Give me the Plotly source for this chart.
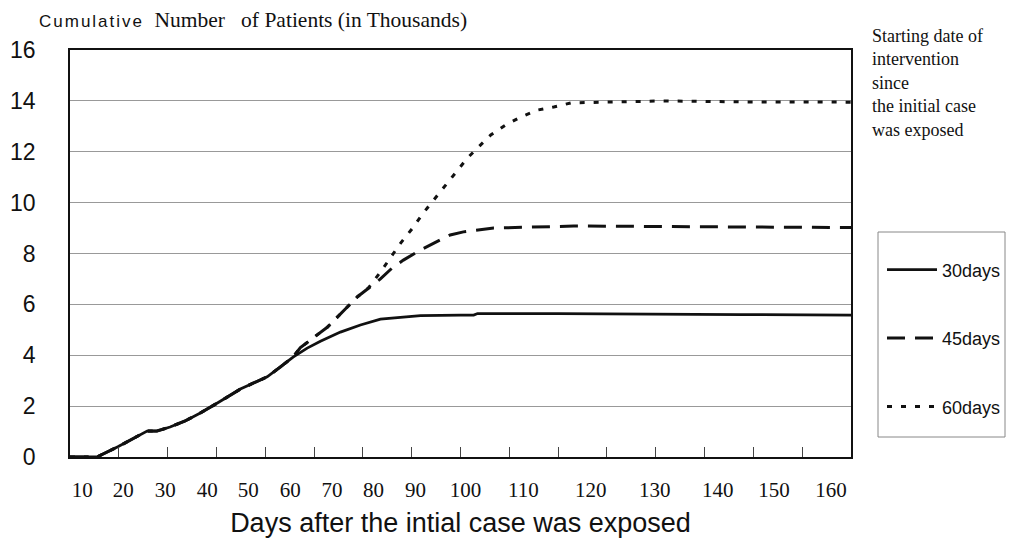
import plotly.graph_objects as go

# x in units of the tick grid (left edge = 0, tick marks every 10, right edge = 160)
days_30 = [0, 5.5, 9.8, 12.3, 15.8, 17.8, 20.5, 23.6, 26.7, 30.2, 34.9, 37.5, 40.4, 43.1, 45.7,
           48.6, 51.3, 55.4, 59.5, 63.6, 67.7, 71.8, 80.0, 82.7, 83.5, 100.0, 137.4, 160.0]
vals_30 = [0, 0, 0.40, 0.67, 1.02, 1.02, 1.18, 1.42, 1.73, 2.12, 2.67, 2.90, 3.15, 3.54, 3.93,
           4.28, 4.55, 4.91, 5.19, 5.42, 5.50, 5.56, 5.58, 5.58, 5.64, 5.64, 5.60, 5.58]

days_45 = [0, 5.5, 9.8, 12.3, 15.8, 17.8, 20.5, 23.6, 26.7, 30.2, 34.9, 37.5, 40.4, 43.1, 45.7,
           47.2, 52.7, 58.9, 61.1, 63.6, 66.0, 68.3, 71.8, 74.5, 77.9, 80.6, 84.1, 86.8, 103.2, 137.4, 160.0]
vals_45 = [0, 0, 0.40, 0.67, 1.02, 1.02, 1.18, 1.42, 1.73, 2.12, 2.67, 2.90, 3.15, 3.54, 3.93,
           4.30, 5.10, 6.30, 6.64, 7.00, 7.43, 7.74, 8.14, 8.41, 8.73, 8.85, 8.92, 9.00, 9.08, 9.04, 9.02]

days_60 = [0, 5.5, 9.8, 12.3, 15.8, 17.8, 20.5, 23.6, 26.7, 30.2, 34.9, 37.5, 40.4, 43.1, 45.7,
           47.2, 52.7, 58.9, 61.1, 63.6, 65.6, 67.7, 70.2, 72.4, 74.5, 76.9, 79.0, 81.4, 83.7, 86.2,
           89.2, 92.3, 95.8, 99.1, 102.6, 108.7, 121.6, 137.4, 160.0]
vals_60 = [0, 0, 0.40, 0.67, 1.02, 1.02, 1.18, 1.42, 1.73, 2.12, 2.67, 2.90, 3.15, 3.54, 3.93,
           4.30, 5.10, 6.30, 6.64, 7.27, 7.80, 8.40, 9.00, 9.60, 10.10, 10.69, 11.20, 11.75, 12.19, 12.66,
           13.05, 13.36, 13.64, 13.76, 13.92, 13.95, 14.00, 13.96, 13.95]

series_names = ["30days", "45days", "60days"]
series_dash = ["solid", "18px,10px", "5px,9px"]

tick_marks = [10, 20, 30, 40, 50, 60, 70, 80, 90, 100, 110, 120, 130, 140, 150]
xlabel_text = ["10", "20", "30", "40", "50", "60", "70", "80", "90", "100",
               "110", "120", "130", "140", "150", "160"]
xlabel_pos = [2.5, 10.9, 19.5, 28.1, 36.5, 45.1, 53.7, 62.2, 70.8, 81.0,
              92.9, 106.7, 119.8, 132.7, 144.2, 155.9]
y_ticks = [0, 2, 4, 6, 8, 10, 12, 14, 16]

note_text = "Starting date of<br>intervention<br>since<br>the initial case<br>was exposed"

W, H = 1020, 538
L, R, T, B = 70, 169, 50, 81
PW, PH = W - L - R, H - T - B


def px_x(px):
    return (px - L) / PW


def px_y(py):
    return (H - B - py) / PH


fig = go.Figure()
for i, (xs, ys) in enumerate([(days_30, vals_30), (days_45, vals_45), (days_60, vals_60)]):
    fig.add_trace(go.Scatter(
        x=xs, y=ys, mode="lines", name=series_names[i],
        line=dict(color="#111111", width=2.8 if i == 0 else 3, dash=series_dash[i]),
        legendgroup=series_names[i],
    ))
# carrier for the label axis
fig.add_trace(go.Scatter(x=[], y=[], xaxis="x2", showlegend=False, hoverinfo="skip"))

annotations = [
    dict(xref="paper", yref="paper", x=px_x(37), y=px_y(20),
         xanchor="left", yanchor="middle", showarrow=False,
         text='<span style="font-family:Liberation Sans;font-size:17px;letter-spacing:2px">Cumulative</span>'
              '&nbsp;&nbsp;<span style="font-family:Liberation Serif;font-size:21.5px">Number&nbsp;&nbsp; of Patients (in Thousands)</span>',
         font=dict(family="Liberation Serif", size=21, color="#111")),
    dict(xref="paper", yref="paper", x=px_x(870), y=px_y(24),
         xanchor="left", yanchor="top", align="left", showarrow=False,
         text=note_text, font=dict(family="Liberation Serif", size=18, color="#111")),
]

fig.update_layout(
    width=W, height=H,
    margin=dict(l=L, r=R, t=T, b=B),
    paper_bgcolor="white", plot_bgcolor="white",
    showlegend=True,
    legend=dict(
        x=px_x(882), xanchor="left", y=px_y(338.5), yanchor="middle",
        font=dict(family="Liberation Sans", size=18, color="#111"),
        bgcolor="rgba(0,0,0,0)", borderwidth=0,
        tracegroupgap=42, traceorder="grouped", itemwidth=50,
    ),
    xaxis=dict(
        range=[0, 160], tickvals=tick_marks, ticks="inside", ticklen=10, tickwidth=1,
        tickcolor="#444", showticklabels=False, showgrid=False, zeroline=False,
        showline=True, linecolor="#111", linewidth=2, mirror=True, automargin=False,
    ),
    xaxis2=dict(
        overlaying="x", side="bottom", range=[0, 160], automargin=False,
        tickvals=xlabel_pos, ticktext=xlabel_text, ticks="", showgrid=False,
        showline=False, zeroline=False, ticklabelstandoff=18,
        tickfont=dict(family="Liberation Serif", size=21, color="#111"),
        title=dict(text="Days after the intial case was exposed",
                   font=dict(family="Liberation Sans", size=27, color="#111"), standoff=12),
    ),
    yaxis=dict(
        range=[0, 16], tickvals=y_ticks, ticks="", showgrid=True, gridcolor="#999",
        gridwidth=1, zeroline=False, showline=True, linecolor="#111", linewidth=1.5,
        mirror=True, ticklabelstandoff=28, automargin=False,
        tickfont=dict(family="Liberation Sans", size=23, color="#111"),
    ),
    shapes=[dict(type="rect", xref="paper", yref="paper",
                 x0=px_x(878), x1=px_x(1005), y0=px_y(437), y1=px_y(232),
                 line=dict(color="#888", width=1), fillcolor="rgba(0,0,0,0)")],
    annotations=annotations,
)

fig.write_html("out.html", config={"displayModeBar": False},
               post_script="document.body.style.margin='0px';")
